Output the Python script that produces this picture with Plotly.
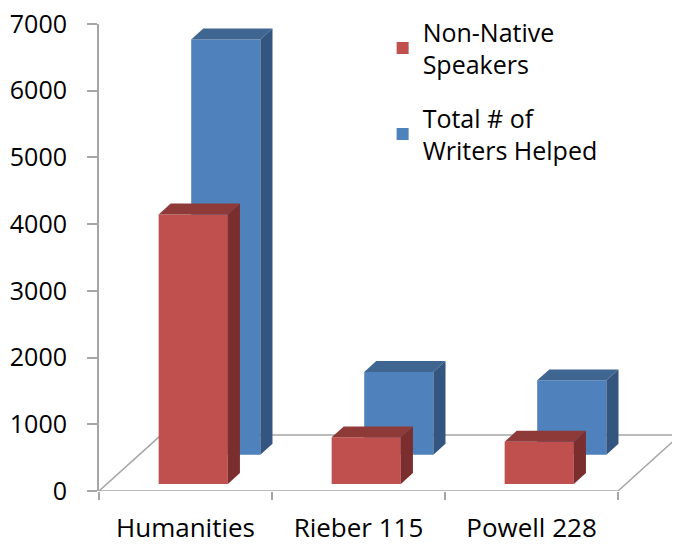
import plotly.graph_objects as go

# ---- data ----
categories = ["Humanities", "Rieber 115", "Powell 228"]
non_native = [4040, 700, 635]
total_helped = [6225, 1240, 1115]
y_ticks = [0, 1000, 2000, 3000, 4000, 5000, 6000, 7000]

# ---- pseudo-3D geometry (oblique projection), in axis units ----
PX_PER_CAT = 173.0
PX_PER_UNIT_Y = 66.86 / 1000.0
DEPTH_X = 62.0 / PX_PER_CAT          # full floor depth, x component
DEPTH_Y = 56.0 / PX_PER_UNIT_Y       # full floor depth, y component
BAR_W = 0.4
N = len(categories)

FONT = "Open Sans"
GRAY = "#A6A6A6"

series = [
    # name, values, front colour, top colour, side colour, depth front, depth back, rank
    ("Total # of<br>Writers Helped", total_helped, "#4F81BD", "#3F6591", "#33557F", 0.65, 0.845, 2),
    ("Non-Native<br>Speakers", non_native, "#C0504D", "#8E3A38", "#7B2E2E", 0.125, 0.32, 1),
]

fig = go.Figure()

for name, vals, c_front, c_top, c_side, d0, d1, rank in series:
    base = d0 * DEPTH_Y
    centers = [i + 0.5 + d0 * DEPTH_X for i in range(N)]
    dd = d1 - d0
    ddx, ddy = dd * DEPTH_X, dd * DEPTH_Y
    # front faces
    fig.add_trace(go.Bar(x=centers, y=vals, base=[base] * N, width=BAR_W, name=name,
                         marker=dict(color=c_front, line=dict(width=0)),
                         legendrank=rank, legendgroup=name))
    for cx, v in zip(centers, vals):
        xl, xr = cx - BAR_W / 2, cx + BAR_W / 2
        top = base + v
        # top face
        fig.add_trace(go.Scatter(
            x=[xl, xr, xr + ddx, xl + ddx, xl],
            y=[top, top, top + ddy, top + ddy, top],
            mode="lines", line=dict(width=0, color=c_top), fill="toself", fillcolor=c_top,
            showlegend=False, hoverinfo="skip"))
        # right side face
        fig.add_trace(go.Scatter(
            x=[xr, xr, xr + ddx, xr + ddx, xr],
            y=[base, top, top + ddy, base + ddy, base],
            mode="lines", line=dict(width=0, color=c_side), fill="toself", fillcolor=c_side,
            showlegend=False, hoverinfo="skip"))

# floor outline (below all traces)
floor_path = "M 0 0 L {n} 0 L {n2} {dy} L {dx} {dy} Z".format(
    n=N, n2=N + DEPTH_X, dx=DEPTH_X, dy=DEPTH_Y)
fig.add_shape(type="path", path=floor_path, xref="x", yref="y", layer="below",
              line=dict(color=GRAY, width=1.5), fillcolor="white")

W, H = 673, 544
ML, MR, MT, MB = 99, 1, 24, 53
plot_w = W - ML - MR

fig.update_layout(
    width=W, height=H,
    margin=dict(l=ML, r=MR, t=MT, b=MB, autoexpand=False),
    paper_bgcolor="white", plot_bgcolor="white",
    barmode="overlay",
    font=dict(family=FONT, size=25, color="#000000"),
    showlegend=True,
    legend=dict(x=0.495, y=1.032, xanchor="left", yanchor="top",
                font=dict(family=FONT, size=25, color="#000000"),
                bgcolor="rgba(0,0,0,0)", tracegroupgap=18, traceorder="grouped"),
    xaxis=dict(range=[0, plot_w / PX_PER_CAT], tickvals=[i + 0.5 for i in range(N)],
               ticktext=categories, ticks="", showline=False, showgrid=False, zeroline=False,
               ticklabelstandoff=19, tickfont=dict(family=FONT, size=26, color="#000000"),
               minor=dict(tickmode="array", tickvals=list(range(N + 1)), ticks="outside",
                          ticklen=8, tickcolor=GRAY, tickwidth=1.5, showgrid=False),
               fixedrange=True),
    yaxis=dict(range=[0, 7000], tickvals=y_ticks, ticks="outside", ticklen=10,
               tickcolor=GRAY, tickwidth=1.5, showline=True, linecolor=GRAY, linewidth=2,
               showgrid=False, zeroline=False, ticklabelstandoff=15, fixedrange=True),
)

fig.write_html("out.html", config={"displayModeBar": False},
               post_script="document.body.style.margin='0';document.body.style.overflow='hidden';")
